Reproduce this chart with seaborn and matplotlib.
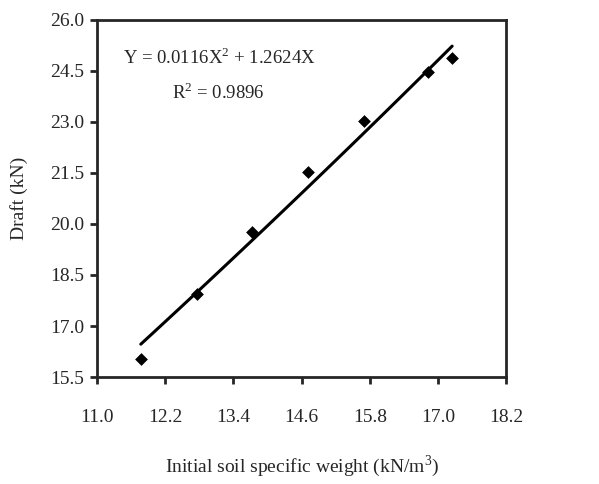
import numpy as np
import pandas as pd
import matplotlib
matplotlib.use('Agg')
import matplotlib.pyplot as plt
import seaborn as sns

# data
soil_weight = [11.77, 12.76, 13.73, 14.71, 15.70, 16.83, 17.25]
draft = [16.03, 17.94, 19.76, 21.53, 23.03, 24.47, 24.88]
# trendline given on the chart: Y = a*X^2 + b*X
coef_a = 0.0116
coef_b = 1.2624
x_ticks = [11.0, 12.2, 13.4, 14.6, 15.8, 17.0, 18.2]
y_ticks = [15.5, 17.0, 18.5, 20.0, 21.5, 23.0, 24.5, 26.0]

sns.set_style('ticks')
plt.rcParams['font.family'] = ['Liberation Serif', 'DejaVu Serif']
plt.rcParams['mathtext.fontset'] = 'custom'
plt.rcParams['mathtext.rm'] = 'Liberation Serif'

df = pd.DataFrame({'x': soil_weight, 'y': draft})
xs = np.linspace(min(soil_weight), max(soil_weight), 50)
fit = pd.DataFrame({'x': xs, 'y': coef_a * xs**2 + coef_b * xs})

fig = plt.figure(figsize=(5.99, 4.84), dpi=100)
ax = fig.add_axes([0.162, 0.221, 0.683, 0.738])

sns.lineplot(data=fit, x='x', y='y', color='black', linewidth=2.2, ax=ax)
sns.scatterplot(data=df, x='x', y='y', marker='D', s=36, color='black',
                edgecolor='black', ax=ax, zorder=3)

ax.set_xlim(11.0, 18.2)
ax.set_ylim(15.5, 26.0)
ax.set_xticks(x_ticks)
ax.set_yticks(y_ticks)
ax.set_xticklabels([f'{v:.1f}' for v in x_ticks], fontsize=14)
ax.set_yticklabels([f'{v:.1f}' for v in y_ticks], fontsize=14)
ax.tick_params(direction='out', length=5, width=2)
ax.tick_params(axis='x', pad=18)
ax.tick_params(axis='y', pad=4)
for s in ax.spines.values():
    s.set_linewidth(2)
    s.set_visible(True)

ax.set_xlabel('Initial soil specific weight (kN/m$^3$)', fontsize=14, labelpad=20)
ax.set_ylabel('Draft (kN)', fontsize=14, labelpad=16)

ax.text(0.064, 0.895, 'Y = 0.0116X$^2$ + 1.2624X', transform=ax.transAxes,
        fontsize=13.5, va='center')
ax.text(0.183, 0.796, 'R$^2$ = 0.9896', transform=ax.transAxes,
        fontsize=13.5, va='center')

plt.savefig('out.png', dpi=100)
